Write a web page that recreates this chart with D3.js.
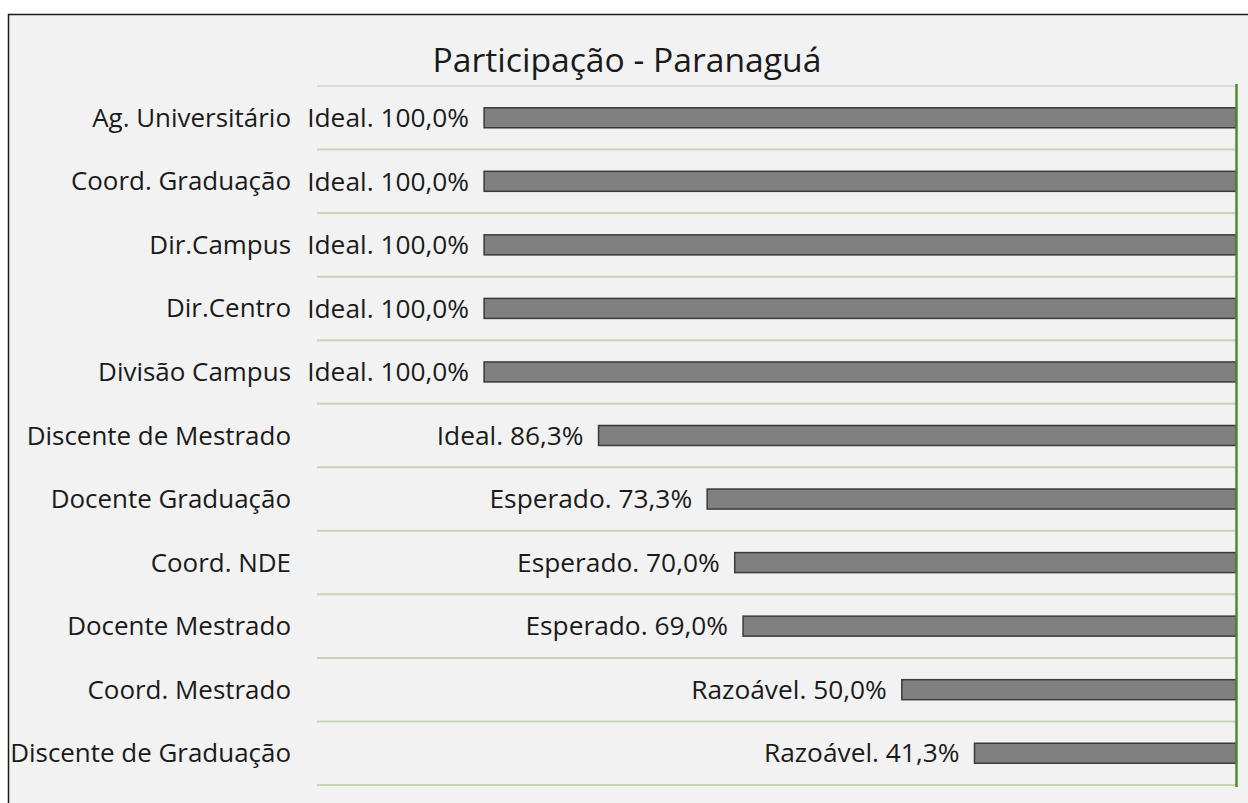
<!DOCTYPE html>
<html><head><meta charset="utf-8">
<script src="https://cdn.jsdelivr.net/npm/d3@7/dist/d3.min.js"></script>
<style>body{margin:0;background:#fff;} text{font-family:"Open Sans",sans-serif;fill:#1a1a1a;}</style>
</head><body><svg id="c" width="1248" height="803"></svg>
<script>
const categories = ["Ag. Universitário","Coord. Graduação","Dir.Campus","Dir.Centro","Divisão Campus","Discente de Mestrado","Docente Graduação","Coord. NDE","Docente Mestrado","Coord. Mestrado","Discente de Graduação"];
const values = [100.0,100.0,100.0,100.0,100.0,86.3,73.3,70.0,69.0,50.0,41.3];
const levels = ["Ideal","Ideal","Ideal","Ideal","Ideal","Ideal","Esperado","Esperado","Esperado","Razoável","Razoável"];
const title = "Participação - Paranaguá";

const svg = d3.select("#c");
svg.append("rect").attr("x",8.5).attr("y",14.5).attr("width",1300).attr("height",900)
  .attr("fill","#f2f2f2").attr("stroke","#1a1a1a").attr("stroke-width",1.5);

const L=317, R=1236, T=86, B=785;
const x = d3.scaleLinear().domain([10,120]).range([R,L]);
const y = d3.scaleBand().domain(categories).range([T,B]);

function fitSize(str, target, base){
  const t = svg.append("text").attr("font-size",base).text(str);
  const w = t.node().getComputedTextLength(); t.remove();
  return base*target/w;
}
const catSize = fitSize("Discente de Graduação",281,20);
const valSize = fitSize("Ideal. 100,0%",162,20);
const titleSize = fitSize(title,389,24);

const bounds = d3.range(categories.length+1).map(i=>T+i*y.step());
svg.selectAll("line.g").data(bounds).join("line")
  .attr("x1",L).attr("x2",R).attr("y1",d=>d).attr("y2",d=>d)
  .attr("stroke",(d,i)=>i===0?"#d9d9d9":"#c5d6b4").attr("stroke-width",2);

const bh = 20;
svg.selectAll("rect.b").data(categories).join("rect")
  .attr("x",(d,i)=>x(values[i])).attr("y",d=>y(d)+y.bandwidth()/2-bh/2)
  .attr("width",(d,i)=>R-x(values[i])).attr("height",bh)
  .attr("fill","#808080").attr("stroke","#3a3a3a").attr("stroke-width",1.5);

svg.append("line").attr("x1",R+0.5).attr("x2",R+0.5).attr("y1",T-2).attr("y2",B+2)
  .attr("stroke","#4f8a2f").attr("stroke-width",2.5);

const fmt = v => v.toFixed(1).replace(".",",")+"%";
svg.selectAll("text.v").data(categories).join("text")
  .attr("x",(d,i)=>x(values[i])-15).attr("y",d=>y(d)+y.bandwidth()/2)
  .attr("dy","0.35em").attr("text-anchor","end").attr("font-size",valSize)
  .text((d,i)=>levels[i]+". "+fmt(values[i]));

svg.selectAll("text.c").data(categories).join("text")
  .attr("x",291).attr("y",d=>y(d)+y.bandwidth()/2)
  .attr("dy","0.35em").attr("text-anchor","end").attr("font-size",catSize)
  .text(d=>d);

svg.append("text").attr("x",627).attr("y",60).attr("dy","0.35em")
  .attr("text-anchor","middle").attr("font-size",titleSize).text(title);
</script></body></html>
